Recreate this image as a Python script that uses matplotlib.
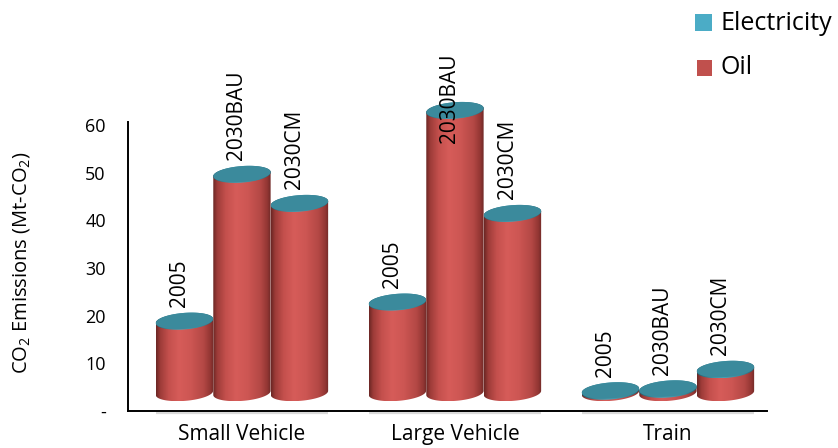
import numpy as np
import matplotlib
matplotlib.use("Agg")
import matplotlib.pyplot as plt
from matplotlib.patches import Polygon, Rectangle
from matplotlib.colors import LinearSegmentedColormap

plt.rcParams['font.family'] = ['Open Sans', 'DejaVu Sans']
plt.rcParams['mathtext.fontset'] = 'custom'
plt.rcParams['mathtext.rm'] = 'Open Sans'
plt.rcParams['mathtext.it'] = 'Open Sans:italic'

# ---- data -------------------------------------------------------------
groups = ["Small Vehicle", "Large Vehicle", "Train"]
scenarios = ["2005", "2030BAU", "2030CM"]
oil = [[15.0, 45.8, 39.7],
       [19.0, 59.2, 37.6],
       [0.3, 0.7, 4.8]]
electricity = [[0.1, 0.1, 0.1],
               [0.1, 0.1, 0.1],
               [0.2, 0.2, 0.2]]
y_ticks = [0, 10, 20, 30, 40, 50, 60]
y_tick_labels = ["-", "10", "20", "30", "40", "50", "60"]

# ---- layout -----------------------------------------------------------
W, H, DPI = 838, 448, 100
fig = plt.figure(figsize=(W / DPI, H / DPI), dpi=DPI)

ax_left, ax_right, ax_bottom, ax_top = 128, 767, 411, 122   # pixels
px_per_unit_y = (411 - 125) / 60.0
xlim = (-0.535, 2.465)
ylim = (0, (ax_bottom - ax_top) / px_per_unit_y)
ax = fig.add_axes([ax_left / W, (H - ax_bottom) / H,
                   (ax_right - ax_left) / W, (ax_bottom - ax_top) / H])
ax.set_xlim(*xlim)
ax.set_ylim(*ylim)
sx = (ax_right - ax_left) / (xlim[1] - xlim[0])   # px per x unit
sy = px_per_unit_y                               # px per y unit

bar_w = 0.27
floor = 3.8          # depth of the 3-D floor, in value units
ell_a = bar_w * sx / 2.0
ell_b = 8.0
tilt = np.deg2rad(4.5)

oil_cmap = LinearSegmentedColormap.from_list(
    "oil", [(0.0, "#6a2624"), (0.07, "#9c3b38"), (0.22, "#c4504d"),
            (0.40, "#d65c59"), (0.60, "#cd5653"), (0.82, "#b44845"),
            (0.94, "#923633"), (1.0, "#6e2927")])
elec_cmap = LinearSegmentedColormap.from_list(
    "elec", [(0.0, "#24606e"), (0.3, "#3f97aa"), (0.45, "#4aa4b8"),
             (0.8, "#37889a"), (1.0, "#255f6c")])
top_color = "#3b8a9c"


def ellipse(cx, cy, n=160):
    t = np.linspace(0, 2 * np.pi, n, endpoint=False)
    ex, ey = ell_a * np.cos(t), ell_b * np.sin(t)
    rx = ex * np.cos(tilt) - ey * np.sin(tilt)
    ry = ex * np.sin(tilt) + ey * np.cos(tilt)
    ny = np.sin(tilt) * np.cos(t) / ell_a + np.cos(tilt) * np.sin(t) / ell_b
    return cx + rx / sx, cy + ry / sy, ny


def cylinder_side(cx, y0, y1, cmap, z):
    if y1 - y0 <= 0:
        return
    xs, ys0, ny = ellipse(cx, y0)
    _, ys1, _ = ellipse(cx, y1)
    ys = np.where(ny < 0, ys0, ys1)
    poly = Polygon(np.column_stack([xs, ys]), closed=True,
                   facecolor="none", edgecolor="none", transform=ax.transData)
    ax.add_patch(poly)
    grad = np.linspace(0, 1, 256).reshape(1, -1)
    xl, xr = xs.min(), xs.max()
    im = ax.imshow(grad, cmap=cmap, aspect="auto", origin="lower",
                   extent=[xl, xr, ys.min(), ys.max()], zorder=z,
                   interpolation="bilinear")
    im.set_clip_box(fig.bbox)
    im.set_clip_path(poly)


def cylinder_top(cx, y, z):
    xs, ys, _ = ellipse(cx, y)
    ax.add_patch(Polygon(np.column_stack([xs, ys]), closed=True,
                         facecolor=top_color, edgecolor="none",
                         zorder=z, clip_on=False))


labels = []
z = 3
for gi, g in enumerate(groups):
    for si, s in enumerate(scenarios):
        cx = gi + (si - 1) * bar_w
        base = floor
        o_top = base + oil[gi][si]
        e_top = o_top + electricity[gi][si]
        cylinder_side(cx, base, o_top, oil_cmap, z)
        cylinder_side(cx, o_top, e_top, elec_cmap, z + 0.1)
        cylinder_top(cx, e_top, z + 0.2)
        z += 1
        t = ax.text(cx - 5 / sx, e_top + 14 / sy, s, rotation=90,
                    ha="center", va="bottom", fontsize=15, color="black",
                    zorder=50, clip_on=False)
        labels.append(t)

ax.set_xlim(*xlim)
ax.set_ylim(*ylim)

# light floor strip under each category
for gi in range(len(groups)):
    ax.plot([gi - 1.5 * bar_w, gi + 1.5 * bar_w], [-0.4, -0.4],
            color="#dadada", lw=1.6, clip_on=False, zorder=1,
            solid_capstyle="butt")

# axes styling
for side in ["top", "right"]:
    ax.spines[side].set_visible(False)
for side in ["left", "bottom"]:
    ax.spines[side].set_color("black")
    ax.spines[side].set_linewidth(1.4)
    ax.spines[side].set_zorder(60)
ax.set_yticks(y_ticks)
ax.set_yticklabels(y_tick_labels, fontsize=13)
ax.tick_params(axis="y", length=0, pad=16)
ax.set_xticks(range(len(groups)))
ax.set_xticklabels(groups, fontsize=15)
ax.tick_params(axis="x", length=0, pad=9)
ax.patch.set_visible(False)

fig.text(22 / W, 1 - 263 / H, "CO$_2$ Emissions (Mt-CO$_2$)", rotation=90,
         ha="center", va="center", fontsize=14.5)

# legend
fig.add_artist(Rectangle((695 / W, 1 - 31 / H), 17 / W, 17 / H,
                         transform=fig.transFigure, facecolor="#4BACC6",
                         edgecolor="none"))
fig.text(720 / W, 1 - 23 / H, "Electricity", ha="left", va="center",
         fontsize=18)
fig.add_artist(Rectangle((697 / W, 1 - 76 / H), 15 / W, 16 / H,
                         transform=fig.transFigure, facecolor="#C0504D",
                         edgecolor="none"))
fig.text(720 / W, 1 - 68 / H, "Oil", ha="left", va="center", fontsize=18)

# keep bar labels inside the chart area
fig.canvas.draw()
limit = H - 53
for t in labels:
    bb = t.get_window_extent()
    if bb.y1 > limit:
        shift = (bb.y1 - limit) / sy
        x, y = t.get_position()
        t.set_position((x, y - shift))

fig.savefig("out.png", dpi=DPI)
